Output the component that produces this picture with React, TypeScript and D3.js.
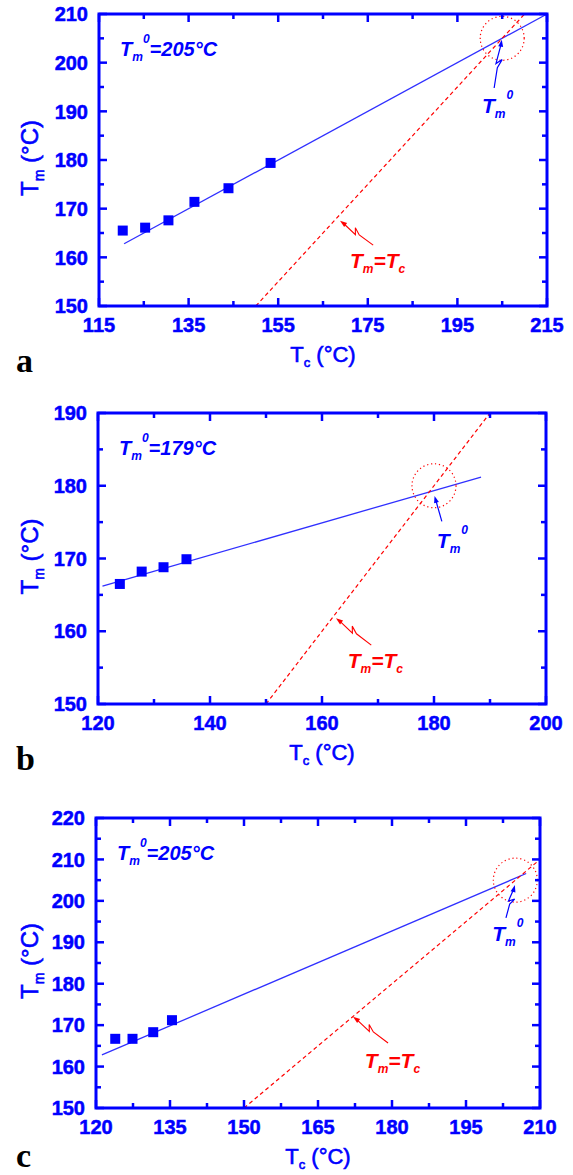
import React from "react";
import * as d3 from "d3";

const BLUE = "#0000ff";
const FIT = "#3030ff";
const RED = "#ff0000";
const SANS = "'Liberation Sans', Arial, sans-serif";

// ---- panel a ----
const tcA = [120.3, 125.3, 130.5, 136.3, 143.9, 153.3];
const tmA = [165.5, 166.1, 167.6, 171.4, 174.2, 179.4];
const fitA = [[120.6, 162.8], [215, 210]];
const diagA = [[150, 150], [210, 210]];
const xTicksA = [115, 135, 155, 175, 195, 215];
const xMinorA = [125, 145, 165, 185, 205];
const yTicksA = [150, 160, 170, 180, 190, 200, 210];
const yMinorA = [155, 165, 175, 185, 195, 205];

// ---- panel b ----
const tcB = [123.9, 127.8, 131.7, 135.8];
const tmB = [166.5, 168.2, 168.8, 169.9];
const fitB = [[120.8, 166.2], [188.4, 181.2]];
const diagB = [[150, 150], [190, 190]];
const xTicksB = [120, 140, 160, 180, 200];
const xMinorB = [130, 150, 170, 190];
const yTicksB = [150, 160, 170, 180, 190];
const yMinorB = [155, 165, 175, 185];

// ---- panel c ----
const tcC = [123.9, 127.4, 131.6, 135.4];
const tmC = [166.7, 166.7, 168.3, 171.2];
const fitC = [[121.2, 162.8], [207.2, 206.6]];
const diagC = [[150, 150], [210, 210]];
const xTicksC = [120, 135, 150, 165, 180, 195, 210];
const xMinorC = [127.5, 142.5, 157.5, 172.5, 187.5, 202.5];
const yTicksC = [150, 160, 170, 180, 190, 200, 210, 220];
const yMinorC = [155, 165, 175, 185, 195, 205, 215];

const panels = [
  {
    letter: "a", letterY: 372, box: { l: 99, r: 547, t: 14, b: 306 },
    xDomain: [115, 215], yDomain: [150, 210],
    xTicks: xTicksA, xMinor: xMinorA, yTicks: yTicksA, yMinor: yMinorA,
    tc: tcA, tm: tmA, fit: fitA, diag: diagA, tm0: "205",
    circle: [205, 205],
    blueArrow: [[203.2, 194.8], [204.9, 204.7]], blueZig: true, blueLabel: [200.5, 189.7],
    redArrow: [[176.2, 162.5], [168.8, 167.5]], redLabel: [171, 157.8],
  },
  {
    letter: "b", letterY: 770, box: { l: 98, r: 546, t: 413, b: 704 },
    xDomain: [120, 200], yDomain: [150, 190],
    xTicks: xTicksB, xMinor: xMinorB, yTicks: yTicksB, yMinor: yMinorB,
    tc: tcB, tm: tmB, fit: fitB, diag: diagB, tm0: "179",
    circle: [180, 180],
    blueArrow: [[181.4, 175.1], [180.1, 178.6]], blueZig: false, blueLabel: [180.5, 171.4],
    redArrow: [[168.8, 158.1], [162.5, 161.8]], redLabel: [164.6, 155],
  },
  {
    letter: "c", letterY: 1167, box: { l: 96, r: 540, t: 818, b: 1108 },
    xDomain: [120, 210], yDomain: [150, 220],
    xTicks: xTicksC, xMinor: xMinorC, yTicks: yTicksC, yMinor: yMinorC,
    tc: tcC, tm: tmC, fit: fitC, diag: diagC, tm0: "205",
    circle: [205, 205],
    blueArrow: [[203.1, 195.9], [204.9, 203.8]], blueZig: true, blueLabel: [200.3, 190.3],
    redArrow: [[179.2, 165.7], [172.1, 172]], redLabel: [174.5, 159.7],
  },
];

// arrow from tail to tip, optionally with a little lightning break in the middle
function arrowPath(x1, y1, x2, y2, zig) {
  const dx = x2 - x1, dy = y2 - y1;
  const L = Math.hypot(dx, dy);
  const nx = -dy / L, ny = dx / L;
  const p = (t, o) => [x1 + dx * t + nx * o, y1 + dy * t + ny * o];
  const pts = zig
    ? [p(0, 0), p(0.42, 0), p(0.6, 3.5), p(0.5, -2), p(0.9, 0)]
    : [p(0, 0), p(0.9, 0)];
  return d3.line()(pts);
}

function arrowHead(x1, y1, x2, y2) {
  const dx = x2 - x1, dy = y2 - y1;
  const L = Math.hypot(dx, dy);
  const ux = dx / L, uy = dy / L;
  const bx = x2 - ux * 7, by = y2 - uy * 7;
  return `M${x2},${y2}L${bx - uy * 2.5},${by + ux * 2.5}L${bx + uy * 2.5},${by - ux * 2.5}Z`;
}

// bold text with a hairline stroke so it reads as heavy as the scanned figure
const heavy = { fontFamily: SANS, fontWeight: "bold", stroke: BLUE, strokeWidth: 0.5 };

function Panel({ cfg }) {
  const { box } = cfg;
  const x = d3.scaleLinear().domain(cfg.xDomain).range([box.l, box.r]);
  const y = d3.scaleLinear().domain(cfg.yDomain).range([box.b, box.t]);
  const line = d3.line().x((d) => x(d[0])).y((d) => y(d[1]));
  const [ba, bb] = cfg.blueArrow;
  const [ra, rb] = cfg.redArrow;
  const cy = (box.t + box.b) / 2;
  const cx = (box.l + box.r) / 2;

  return (
    <g>
      {/* fit line */}
      <path d={line(cfg.fit)} stroke={FIT} strokeWidth={1.3} fill="none" />
      {/* Tm = Tc line */}
      <path d={line(cfg.diag)} stroke={RED} strokeWidth={1.2} strokeDasharray="4,3" fill="none" />
      {/* dotted circle */}
      <circle cx={x(cfg.circle[0])} cy={y(cfg.circle[1])} r={22} fill="none"
        stroke={RED} strokeWidth={1.2} strokeDasharray="1.2,2.8" />
      {/* data squares */}
      {cfg.tc.map((t, i) => (
        <rect key={i} x={x(t) - 5} y={y(cfg.tm[i]) - 5} width={10} height={10} fill={BLUE} />
      ))}

      {/* arrows */}
      <path d={arrowPath(x(ba[0]), y(ba[1]), x(bb[0]), y(bb[1]), cfg.blueZig)}
        stroke={BLUE} strokeWidth={1.2} fill="none" />
      <path d={arrowHead(x(ba[0]), y(ba[1]), x(bb[0]), y(bb[1]))} fill={BLUE} />
      <path d={arrowPath(x(ra[0]), y(ra[1]), x(rb[0]), y(rb[1]), true)}
        stroke={RED} strokeWidth={1.1} fill="none" />
      <path d={arrowHead(x(ra[0]), y(ra[1]), x(rb[0]), y(rb[1]))} fill={RED} />

      {/* labels in plot */}
      <text x={box.l + 21} y={box.t + 42} fill={BLUE} fontFamily={SANS} fontSize={20}
        fontWeight="bold" fontStyle="italic">
        <tspan>T</tspan>
        <tspan fontSize={12} dy={5}>m</tspan>
        <tspan fontSize={12} dy={-18}>0</tspan>
        <tspan dy={13}>={cfg.tm0}°C</tspan>
      </text>
      <text x={x(cfg.blueLabel[0])} y={y(cfg.blueLabel[1])} fill={BLUE} fontFamily={SANS}
        fontSize={21} fontWeight="bold" fontStyle="italic">
        <tspan>T</tspan>
        <tspan fontSize={12} dy={5}>m</tspan>
        <tspan fontSize={12} dy={-19} dx={1}>0</tspan>
      </text>
      <text x={x(cfg.redLabel[0])} y={y(cfg.redLabel[1])} fill={RED} fontFamily={SANS}
        fontSize={21} fontWeight="bold" fontStyle="italic">
        <tspan>T</tspan>
        <tspan fontSize={12} dy={5}>m</tspan>
        <tspan dy={-5}>=T</tspan>
        <tspan fontSize={12} dy={5}>c</tspan>
      </text>

      {/* frame */}
      <rect x={box.l} y={box.t} width={box.r - box.l} height={box.b - box.t}
        fill="none" stroke={BLUE} strokeWidth={3} />

      {/* ticks, inward on all four sides */}
      {cfg.xTicks.map((t) => (
        <g key={"xt" + t}>
          <line x1={x(t)} x2={x(t)} y1={box.b} y2={box.b - 8} stroke={BLUE} strokeWidth={2.5} />
          <line x1={x(t)} x2={x(t)} y1={box.t} y2={box.t + 8} stroke={BLUE} strokeWidth={2.5} />
          <text x={x(t)} y={box.b + 26} textAnchor="middle" fill={BLUE} fontSize={20} {...heavy}>{t}</text>
        </g>
      ))}
      {cfg.xMinor.map((t) => (
        <g key={"xm" + t}>
          <line x1={x(t)} x2={x(t)} y1={box.b} y2={box.b - 5} stroke={BLUE} strokeWidth={2.5} />
          <line x1={x(t)} x2={x(t)} y1={box.t} y2={box.t + 5} stroke={BLUE} strokeWidth={2.5} />
        </g>
      ))}
      {cfg.yTicks.map((t) => (
        <g key={"yt" + t}>
          <line x1={box.l} x2={box.l + 8} y1={y(t)} y2={y(t)} stroke={BLUE} strokeWidth={2.5} />
          <line x1={box.r} x2={box.r - 8} y1={y(t)} y2={y(t)} stroke={BLUE} strokeWidth={2.5} />
          <text x={box.l - 11} y={y(t)} dy="0.36em" textAnchor="end" fill={BLUE}
            fontSize={20} {...heavy}>{t}</text>
        </g>
      ))}
      {cfg.yMinor.map((t) => (
        <g key={"ym" + t}>
          <line x1={box.l} x2={box.l + 5} y1={y(t)} y2={y(t)} stroke={BLUE} strokeWidth={2.5} />
          <line x1={box.r} x2={box.r - 5} y1={y(t)} y2={y(t)} stroke={BLUE} strokeWidth={2.5} />
        </g>
      ))}

      {/* axis titles */}
      <text x={cx} y={box.b + 56} textAnchor="middle" fill={BLUE} fontFamily={SANS} fontSize={22}
        stroke={BLUE} strokeWidth={0.6}>
        <tspan>T</tspan>
        <tspan fontSize={13} dy={5}>c</tspan>
        <tspan dy={-5}> (°C)</tspan>
      </text>
      <text transform={`translate(38,${cy - 2}) rotate(-90)`} textAnchor="middle" fill={BLUE}
        fontFamily={SANS} fontSize={24} stroke={BLUE} strokeWidth={0.6}>
        <tspan>T</tspan>
        <tspan fontSize={14} dy={6}>m</tspan>
        <tspan dy={-6}> (°C)</tspan>
      </text>

      {/* panel letter */}
      <text x={16} y={cfg.letterY} fill="#000" fontFamily="'Liberation Serif', 'Times New Roman', serif"
        fontSize={34} fontWeight="bold">{cfg.letter}</text>
    </g>
  );
}

export default function App() {
  return (
    <div style={{ position: "absolute", left: 0, top: 0 }}>
      <svg width={573} height={1175} style={{ display: "block", background: "#fff" }}>
        {panels.map((p) => (
          <Panel key={p.letter} cfg={p} />
        ))}
      </svg>
    </div>
  );
}
